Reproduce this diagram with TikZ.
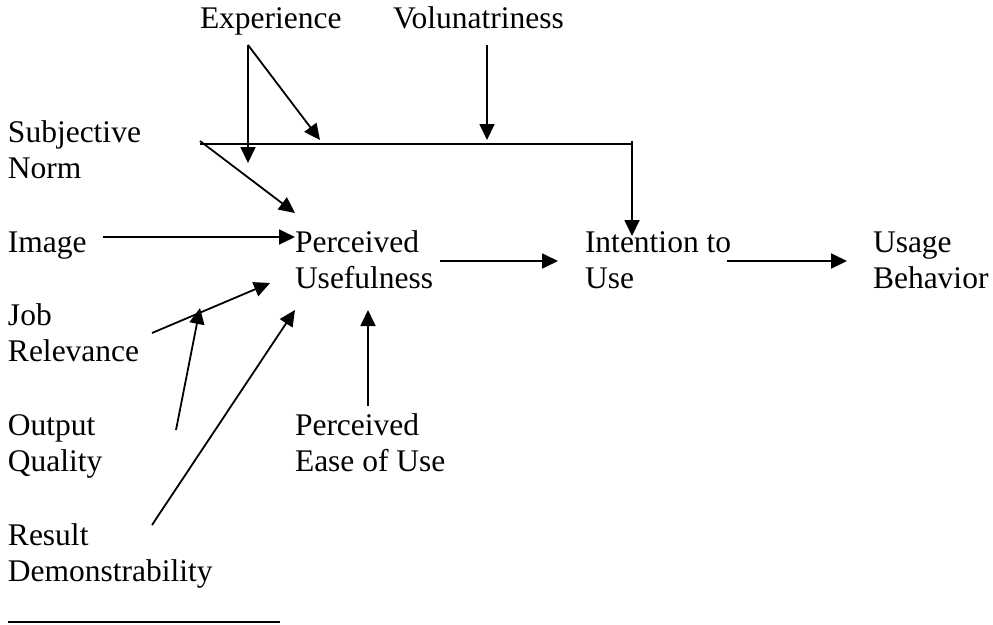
\documentclass[tikz,border=0pt]{standalone}
\usepackage{fontspec}
\setmainfont{Liberation Serif}
\usetikzlibrary{arrows.meta}
\begin{document}
\begin{tikzpicture}[x=1pt,y=-1pt,
  lbl/.style={anchor=base west,inner sep=0pt,outer sep=0pt,align=left,
    font=\fontsize{31.5}{36}\selectfont},
  conn/.style={line width=1.8pt,-{Triangle[length=16pt,width=15pt]}},
  plain/.style={line width=1.6pt}]
\useasboundingbox (0,0) rectangle (993,624);
% texts (two-line nodes: base = baseline of the last line)
\node[lbl] (exp) at (200,28) {Experience};
\node[lbl] (vol) at (393,28) {Volunatriness};
\node[lbl] (sn) at (8,178) {Subjective\\Norm};
\node[lbl] (img) at (8,252) {Image};
\node[lbl] (pu) at (295,288) {Perceived\\Usefulness};
\node[lbl] (itu) at (585,288) {Intention to\\Use};
\node[lbl] (ub) at (873,288) {Usage\\Behavior};
\node[lbl] (jr) at (8,361) {Job\\Relevance};
\node[lbl] (oq) at (8,471) {Output\\Quality};
\node[lbl] (peou) at (295,471) {Perceived\\Ease of Use};
\node[lbl] (rd) at (8,581) {Result\\Demonstrability};
% connector end points
\coordinate (e0) at (248,45);
\coordinate (e1) at (248,163);
\coordinate (e2) at (320,140);
\coordinate (v0) at (487,45);
\coordinate (v1) at (487,140);
\coordinate (h0) at (200,144);
\coordinate (h1) at (632,144);
\coordinate (d0) at (632,141);
\coordinate (d1) at (632,236);
\coordinate (s0) at (200,141);
\coordinate (s1) at (295,213);
\coordinate (i0) at (103,237);
\coordinate (i1) at (295,237);
\coordinate (p0) at (440,261);
\coordinate (p1) at (558,261);
\coordinate (u0) at (727,261);
\coordinate (u1) at (847,261);
\coordinate (j0) at (152,333);
\coordinate (j1) at (270,283);
\coordinate (o0) at (176,430);
\coordinate (o1) at (200,308);
\coordinate (r0) at (152,525);
\coordinate (r1) at (295,310);
\coordinate (q0) at (368,406);
\coordinate (q1) at (368,310);
\coordinate (b0) at (8,622);
\coordinate (b1) at (280,622);
% connectors
\draw[conn] (e0) -- (e1);
\draw[conn] (e0) -- (e2);
\draw[conn] (v0) -- (v1);
\draw[plain] (h0) -- (h1);
\draw[conn] (d0) -- (d1);
\draw[conn] (s0) -- (s1);
\draw[conn] (i0) -- (i1);
\draw[conn] (p0) -- (p1);
\draw[conn] (u0) -- (u1);
\draw[conn] (j0) -- (j1);
\draw[conn] (o0) -- (o1);
\draw[conn] (r0) -- (r1);
\draw[conn] (q0) -- (q1);
\draw[line width=1.2pt] (b0) -- (b1);
\end{tikzpicture}
\end{document}
